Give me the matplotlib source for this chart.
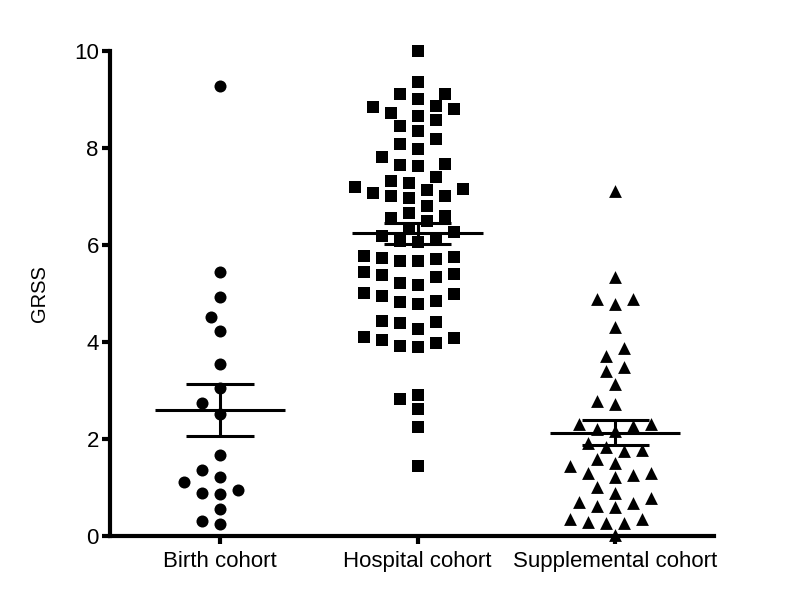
import numpy as np
import matplotlib
matplotlib.use("Agg")
import matplotlib.pyplot as plt

plt.rcParams["font.family"] = ["Liberation Sans", "DejaVu Sans"]

categories = ["Birth cohort", "Hospital cohort", "Supplemental cohort"]
markers = ["o", "s", "^"]

birth = [9.28, 5.44, 4.92, 4.51, 4.23, 3.55, 3.05, 2.74, 2.52, 1.67,
         1.36, 1.12, 1.21, 0.88, 0.87, 0.95, 0.55, 0.25, 0.30]

hospital = [10.0, 9.36, 9.11, 9.01, 9.11, 8.84, 8.72, 8.80, 8.86, 8.57,
            8.65, 8.46, 8.36, 8.08, 8.18, 7.98, 7.81, 7.65, 7.62, 7.66,
            7.41, 7.31, 7.27, 7.20, 6.97, 7.13, 7.01, 7.00, 7.07, 7.15,
            6.80, 6.65, 6.56, 6.50, 6.60, 6.27, 6.34, 6.12, 6.07, 6.09,
            6.19, 5.77, 5.73, 5.66, 5.66, 5.71, 5.76, 5.40, 5.33, 5.38,
            5.45, 5.18, 5.21, 5.02, 4.95, 4.98, 4.83, 4.78, 4.85, 4.43,
            4.39, 4.41, 4.11, 4.04, 3.92, 3.90, 3.97, 4.08, 4.26, 2.82,
            2.61, 2.91, 2.25, 1.44]

supplemental = [7.12, 5.35, 4.89, 4.89, 4.78, 4.30, 3.87, 3.72, 3.49, 3.41,
                3.13, 2.72, 2.79, 2.31, 2.27, 2.31, 2.17, 2.21, 1.84, 1.92,
                1.76, 1.77, 1.50, 1.44, 1.59, 1.29, 1.26, 1.21, 1.29, 1.02,
                0.89, 0.71, 0.62, 0.59, 0.69, 0.79, 0.34, 0.26, 0.26, 0.28,
                0.35, 0.01]

groups = [birth, hospital, supplemental]

yticks = [0, 2, 4, 6, 8, 10]


def swarm(vals, xscale, yscale, step=9.0, rx=18.0, ry=14.0):
    """Greedy beeswarm in pixel space (elliptic spacing); x offsets in data units."""
    vals = np.asarray(vals, float)
    offs = np.zeros(len(vals))
    placed = []
    for i in np.argsort(vals, kind="stable"):
        y = vals[i] * yscale
        k = 0
        done = False
        while not done:
            cands = [0] if k == 0 else [-k, k]
            for c in cands:
                x = c * step
                if all(((x - px) / rx) ** 2 + ((y - py) / ry) ** 2 >= 0.99
                       for px, py in placed):
                    placed.append((x, y))
                    offs[i] = x / xscale
                    done = True
                    break
            k += 1
    return offs


fig = plt.figure(figsize=(7.85, 6.0), dpi=100)
ax = fig.add_axes([0.140, 0.1067, 0.7696, 0.8083])
xlim = (-0.557, 2.5)
ax.set_xlim(*xlim)
ax.set_ylim(0, 10)

xscale = 0.7696 * 785 / (xlim[1] - xlim[0])   # px per x unit
yscale = 0.8083 * 600 / 10.0                   # px per y unit

for i, (vals, mk) in enumerate(zip(groups, markers)):
    offs = swarm(vals, xscale, yscale)
    ms = 75 if mk != "^" else 85
    ax.scatter(i + offs, vals, marker=mk, s=ms, color="black",
               linewidths=0, clip_on=False, zorder=3)
    v = np.asarray(vals)
    mean = v.mean()
    sem = v.std(ddof=1) / np.sqrt(len(v))
    ax.hlines(mean, i - 0.33, i + 0.33, color="black", lw=2.2, zorder=4)
    ax.hlines([mean - sem, mean + sem], i - 0.17, i + 0.17,
              color="black", lw=2.2, zorder=4)
    ax.vlines(i, mean - sem, mean + sem, color="black", lw=2.2, zorder=4)

for s in ["top", "right"]:
    ax.spines[s].set_visible(False)
for s in ["left", "bottom"]:
    ax.spines[s].set_linewidth(3.0)

ax.set_xticks(range(len(categories)))
ax.set_xticklabels(categories, fontsize=16)
ax.set_yticks(yticks)
ax.set_yticklabels([str(t) for t in yticks], fontsize=16)
ax.tick_params(axis="both", length=6, width=3.0, pad=2)
ax.tick_params(axis="x", pad=5)
ax.set_ylabel("GRSS", fontsize=14.5, labelpad=18)

fig.savefig("out.png", dpi=100)
